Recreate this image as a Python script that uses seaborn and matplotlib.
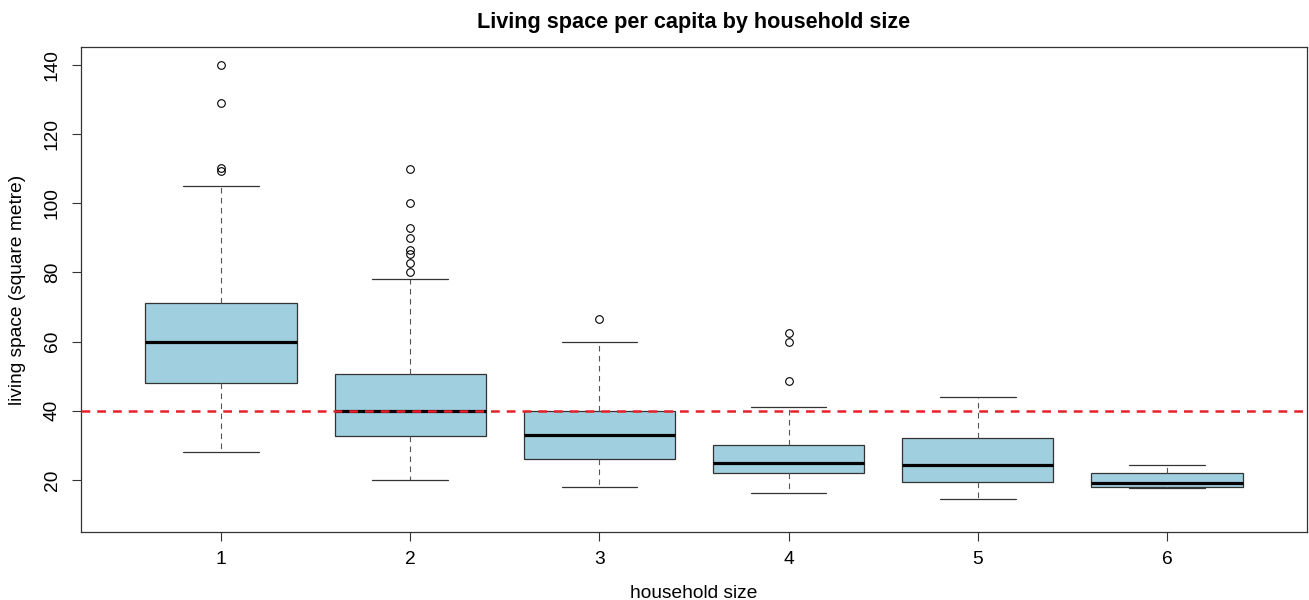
import matplotlib
matplotlib.use("Agg")
import matplotlib.pyplot as plt
import seaborn as sns

# ===== data =====
household_size = [1, 2, 3, 4, 5, 6]
whisker_low = [28.1, 20.0, 18.1, 16.3, 14.4, 17.6]
q1 = [48.1, 32.7, 26.1, 21.9, 19.4, 18.0]
median = [60.0, 40.0, 33.0, 25.0, 24.4, 19.2]
q3 = [71.1, 50.7, 40.0, 30.2, 32.0, 22.1]
whisker_high = [105.0, 78.0, 60.0, 41.2, 44.0, 24.2]
outliers = [
    [109.2, 110.2, 129.0, 140.0],
    [80.1, 82.6, 85.3, 86.5, 90.0, 93.0, 100.0, 110.0],
    [66.6],
    [48.7, 59.9, 62.4],
    [],
    [],
]
reference_line = 40
y_ticks = [20, 40, 60, 80, 100, 120, 140]

# ===== style =====
BOX_COLOR = "#a0cfe0"
EDGE = "#333333"
FONT_SIZE = 13.8

sns.set_style("white")
plt.rcParams["font.family"] = ["Liberation Sans", "DejaVu Sans"]
plt.rcParams["text.color"] = "black"
plt.rcParams["axes.labelcolor"] = "black"
plt.rcParams["xtick.labelcolor"] = "black"
plt.rcParams["ytick.labelcolor"] = "black"

fig = plt.figure(figsize=(13.09, 6.0), dpi=100)
ax = fig.add_axes([81 / 1309, 1 - 531.7 / 600, 1226 / 1309, 484.4 / 600])

# summary stats for each household size
stats = []
for i, size in enumerate(household_size):
    stats.append({
        "label": str(size),
        "whislo": whisker_low[i],
        "q1": q1[i],
        "med": median[i],
        "q3": q3[i],
        "whishi": whisker_high[i],
        "fliers": outliers[i],
    })

ax.bxp(
    stats,
    positions=household_size,
    widths=0.8,
    capwidths=0.4,
    patch_artist=True,
    boxprops=dict(facecolor=BOX_COLOR, edgecolor=EDGE, linewidth=0.9),
    medianprops=dict(color="black", linewidth=2.3, solid_capstyle="butt"),
    whiskerprops=dict(color="#555555", linewidth=0.8, linestyle=(0, (5, 4))),
    capprops=dict(color=EDGE, linewidth=0.9),
    flierprops=dict(marker="o", markerfacecolor="none", markeredgecolor="black",
                    markersize=5.5, markeredgewidth=0.8, linestyle="none"),
)

# 40 m² reference line
ax.axhline(reference_line, color="#e8202a", linewidth=1.8, linestyle=(0, (3.5, 2.8)), zorder=3)

ax.set_xlim(0.26, 6.74)
ax.set_ylim(5.05, 145.1)
ax.set_xticks(household_size)
ax.set_xticklabels([str(s) for s in household_size])
ax.set_yticks(y_ticks)

ax.tick_params(axis="both", which="major", labelsize=FONT_SIZE, direction="out",
               length=6.5, width=0.8, color=EDGE, left=True, bottom=True)
ax.tick_params(axis="y", pad=8, labelrotation=90)
ax.tick_params(axis="x", pad=7.5)
for lab in ax.get_yticklabels():
    lab.set_va("center")

for sp in ax.spines.values():
    sp.set_color(EDGE)
    sp.set_linewidth(0.9)

ax.set_xlabel("household size", fontsize=FONT_SIZE, va="center")
ax.xaxis.set_label_coords(0.5, (531.7 - 593) / 484.4)
ax.set_ylabel("living space (square metre)", fontsize=FONT_SIZE, va="center")
ax.yaxis.set_label_coords((18 - 81) / 1226, 0.5)

ax.set_title("Living space per capita by household size", fontsize=15.6, fontweight="bold",
             y=1 + (47.3 - 22) / 484.4, va="center", pad=0)

fig.savefig("out.png", dpi=100)
